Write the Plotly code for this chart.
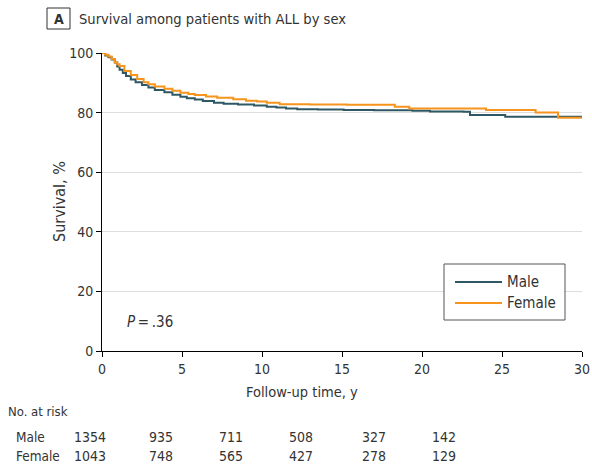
import plotly.graph_objects as go

# Kaplan-Meier step data (years, survival %)
male_t = [0, 0.2, 0.4, 0.6, 0.8, 0.95, 1.1, 1.3, 1.5, 1.8, 2.1, 2.5, 2.9, 3.3, 3.9, 4.4, 4.9, 5.3,
          5.8, 6.3, 7.0, 7.6, 8.5, 9.5, 10.3, 10.9, 11.5, 12.2, 13.5, 15.1, 17.0, 19.4, 20.5, 22.6,
          23.0, 25.2, 30]
male_s = [100, 99.2, 98.6, 97.8, 96.8, 95.5, 94.4, 93.3, 92.3, 91.1, 90.2, 89.3, 88.4, 87.6, 86.8,
          86.0, 85.3, 84.8, 84.4, 83.9, 83.3, 83.0, 82.7, 82.4, 82.0, 81.7, 81.4, 81.1, 81.0, 80.9,
          80.8, 80.6, 80.4, 80.3, 79.2, 78.6, 78.6]

female_t = [0, 0.2, 0.4, 0.6, 0.8, 0.95, 1.1, 1.4, 1.8, 2.2, 2.6, 2.9, 3.3, 3.9, 4.4, 4.9, 5.4,
            5.8, 6.5, 7.2, 8.2, 9.0, 9.7, 10.3, 11.1, 13.0, 15.3, 18.3, 19.2, 24.0, 27.1, 28.5, 30]
female_s = [100, 99.4, 98.8, 98.0, 96.9, 96.2, 95.6, 94.0, 92.6, 91.3, 90.2, 89.5, 88.8, 88.0,
            87.3, 86.7, 86.2, 85.9, 85.4, 85.0, 84.5, 84.0, 83.7, 83.3, 82.8, 82.7, 82.6, 82.0,
            81.4, 80.9, 80.0, 78.3, 78.3]

x_ticks = [0, 5, 10, 15, 20, 25, 30]
y_ticks = [0, 20, 40, 60, 80, 100]

risk_groups = ["Male", "Female"]
risk_male = [1354, 935, 711, 508, 327, 142]
risk_female = [1043, 748, 565, 427, 278, 129]

MALE_C = "#2f5866"
FEMALE_C = "#f7941d"
FONT = "Liberation Sans Narrow, DejaVu Sans Condensed, Arial Narrow, sans-serif"
TXT = "#333333"

# plot area in pixels: x 102..582, y 53..351
def px(x):
    return (x - 102) / 480.0

def py(y):
    return (351 - y) / 298.0

risk_cols_px = [89.5, 160.7, 231, 301, 374, 444]

fig = go.Figure()
fig.add_trace(go.Scatter(x=male_t, y=male_s, mode="lines", name="Male",
                         line=dict(color=MALE_C, width=2, shape="hv")))
fig.add_trace(go.Scatter(x=female_t, y=female_s, mode="lines", name="Female",
                         line=dict(color=FEMALE_C, width=2, shape="hv")))

fig.update_layout(
    width=592, height=468,
    margin=dict(l=102, r=10, t=53, b=117, autoexpand=False),
    paper_bgcolor="white", plot_bgcolor="white",
    font=dict(family=FONT, size=14, color=TXT),
    showlegend=False,
    xaxis=dict(range=[0, 30], tickvals=x_ticks, ticks="outside", ticklen=5,
               tickcolor="black", showline=True, linecolor="black", linewidth=1,
               showgrid=False, zeroline=False, fixedrange=True,
               tickfont=dict(size=14, color=TXT)),
    yaxis=dict(range=[0, 100], tickvals=y_ticks, ticks="outside", ticklen=5,
               tickcolor="black", showline=True, linecolor="black", linewidth=1,
               showgrid=True, gridcolor="#dddddd", gridwidth=1, zeroline=False,
               fixedrange=True, tickfont=dict(size=14, color=TXT)),
)

# Legend drawn as a boxed key
fig.add_shape(type="rect", xref="paper", yref="paper",
              x0=px(444), x1=px(565), y0=py(320), y1=py(264),
              line=dict(color="#555555", width=1), fillcolor="white", layer="above")
for name, col, yy in [("Male", MALE_C, 282), ("Female", FEMALE_C, 303)]:
    fig.add_shape(type="line", xref="paper", yref="paper",
                  x0=px(455), x1=px(502), y0=py(yy), y1=py(yy),
                  line=dict(color=col, width=2), layer="above")
    fig.add_annotation(xref="paper", yref="paper", x=px(505), y=py(yy), text=name,
                       showarrow=False, xanchor="left", yanchor="middle",
                       font=dict(size=15, color=TXT))

# Panel label box and title
fig.add_shape(type="rect", xref="paper", yref="paper",
              x0=px(47), x1=px(70), y0=py(29), y1=py(8),
              line=dict(color="#333333", width=1), fillcolor="white")
fig.add_annotation(xref="paper", yref="paper", x=px(58.5), y=py(18.5), text="<b>A</b>",
                   showarrow=False, xanchor="center", yanchor="middle",
                   font=dict(size=14, color=TXT))
fig.add_annotation(xref="paper", yref="paper", x=px(77), y=py(18.5),
                   text="Survival among patients with ALL by sex",
                   showarrow=False, xanchor="left", yanchor="middle",
                   font=dict(size=14.6, color=TXT))

# Axis titles
fig.add_annotation(xref="paper", yref="paper", x=px(59), y=0.5, text="Survival, %",
                   textangle=-90, showarrow=False, xanchor="center", yanchor="middle",
                   font=dict(size=16, color=TXT))
fig.add_annotation(xref="paper", yref="paper", x=px(301.5), y=py(392), text="Follow-up time, y",
                   showarrow=False, xanchor="center", yanchor="middle",
                   font=dict(size=14.5, color=TXT))

# P value
fig.add_annotation(xref="paper", yref="paper", x=px(125), y=py(322),
                   text="<i>P</i>\u2009=\u2009.36",
                   showarrow=False, xanchor="left", yanchor="middle",
                   font=dict(size=15, color=TXT))

# Number at risk table
fig.add_annotation(xref="paper", yref="paper", x=px(6), y=py(411), text="No. at risk",
                   showarrow=False, xanchor="left", yanchor="middle",
                   font=dict(size=13, color=TXT))
for grp, vals, yy in [(risk_groups[0], risk_male, 437), (risk_groups[1], risk_female, 456)]:
    fig.add_annotation(xref="paper", yref="paper", x=px(14), y=py(yy), text=grp,
                       showarrow=False, xanchor="left", yanchor="middle",
                       font=dict(size=13.5, color=TXT))
    for xc, v in zip(risk_cols_px, vals):
        fig.add_annotation(xref="paper", yref="paper", x=px(xc), y=py(yy), text=str(v),
                           showarrow=False, xanchor="center", yanchor="middle",
                           font=dict(size=14, color=TXT))

fig.write_html("out.html", config={"displayModeBar": False},
               post_script="document.body.style.margin='0';")
